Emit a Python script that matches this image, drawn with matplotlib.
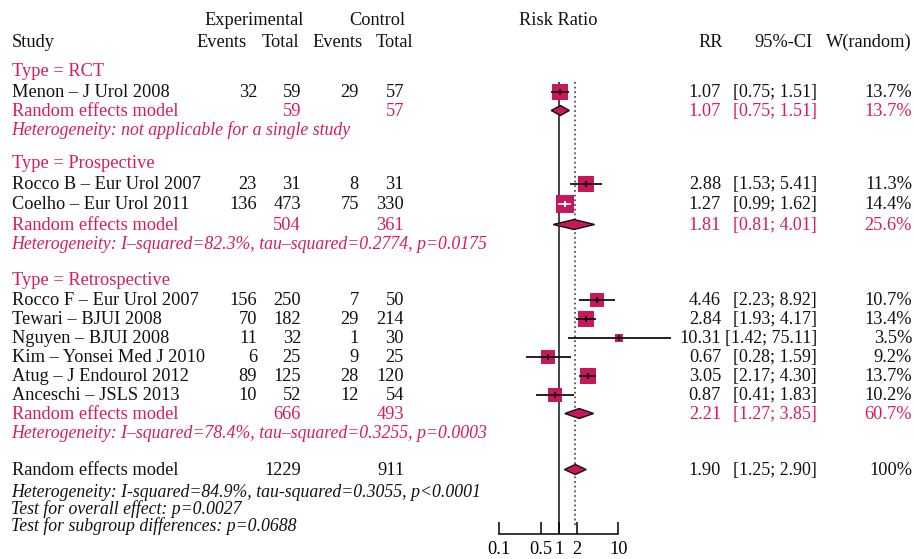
import matplotlib

matplotlib.use("Agg")
import matplotlib.pyplot as plt
from matplotlib.patches import Polygon

plt.rcParams["font.family"] = ["Liberation Serif", "DejaVu Serif"]

PINK_TEXT = "#D81B60"
PINK_MARK = "#C8175D"
BLACK = "#111111"
FS = 13.2
FS_IT = 12.8
FS_CI = 12.9

# study level data
studies = [
    "Menon – J Urol 2008",
    "Rocco B – Eur Urol 2007",
    "Coelho – Eur Urol 2011",
    "Rocco F – Eur Urol 2007",
    "Tewari – BJUI 2008",
    "Nguyen – BJUI 2008",
    "Kim – Yonsei Med J 2010",
    "Atug – J Endourol 2012",
    "Anceschi – JSLS 2013",
]
study_group = [0, 1, 1, 2, 2, 2, 2, 2, 2]
exp_events = [32, 23, 136, 156, 70, 11, 6, 89, 10]
exp_total = [59, 31, 473, 250, 182, 32, 25, 125, 52]
ctrl_events = [29, 8, 75, 7, 29, 1, 9, 28, 12]
ctrl_total = [57, 31, 330, 50, 214, 30, 25, 120, 54]
rr = [1.07, 2.88, 1.27, 4.46, 2.84, 10.31, 0.67, 3.05, 0.87]
ci_lo = [0.75, 1.53, 0.99, 2.23, 1.93, 1.42, 0.28, 2.17, 0.41]
ci_hi = [1.51, 5.41, 1.62, 8.92, 4.17, 75.11, 1.59, 4.30, 1.83]
weight = [13.7, 11.3, 14.4, 10.7, 13.4, 3.5, 9.2, 13.7, 10.2]

# subgroup summaries
groups = ["Type = RCT", "Type = Prospective", "Type = Retrospective"]
grp_exp_total = [59, 504, 666]
grp_ctrl_total = [57, 361, 493]
grp_rr = [1.07, 1.81, 2.21]
grp_lo = [0.75, 0.81, 1.27]
grp_hi = [1.51, 4.01, 3.85]
grp_weight = [13.7, 25.6, 60.7]
grp_het = [
    "Heterogeneity: not applicable for a single study",
    "Heterogeneity: I–squared=82.3%, tau–squared=0.2774, p=0.0175",
    "Heterogeneity: I–squared=78.4%, tau–squared=0.3255, p=0.0003",
]

# overall pooled estimate
overall_exp_total = 1229
overall_ctrl_total = 911
overall_rr = 1.90
overall_lo = 1.25
overall_hi = 2.90
overall_notes = [
    "Heterogeneity: I-squared=84.9%, tau-squared=0.3055, p<0.0001",
    "Test for overall effect: p=0.0027",
    "Test for subgroup differences: p=0.0688",
]

axis_ticks = [0.1, 0.5, 1, 2, 10]
axis_labels = ["0.1", "0.5", "1", "2", "10"]

# text baselines (pixels from top) for each subgroup block
group_lines = [
    {"title": 76, "studies": [97], "pooled": 116, "het": 135},
    {"title": 168, "studies": [189, 209], "pooled": 230, "het": 249},
    {"title": 285, "studies": [305, 324, 343, 362, 381, 400], "pooled": 419, "het": 438},
]
overall_line = 475
note_lines = [497, 514, 531]
MARK_OFF = 5.5

# column x positions
X_STUDY = 12
X_EE, X_ET, X_CE, X_CT = 257, 301, 359, 404
X_RR, X_CI, X_W = 721, 817, 912

fig = plt.figure(figsize=(9.14, 5.59), dpi=100)
ax = fig.add_axes([0, 0, 1, 1])
ax.set_xlim(0, 914)
ax.set_ylim(559, 0)
ax.axis("off")

fx = fig.add_axes([499 / 914, 0, (618.3 - 499) / 914, 1])
fx.set_xscale("log")
fx.set_xlim(0.1, 10)
fx.set_ylim(559, 0)
fx.patch.set_visible(False)
for side in ["left", "top", "right"]:
    fx.spines[side].set_visible(False)
fx.spines["bottom"].set_position(("data", 534))
fx.spines["bottom"].set_linewidth(1.1)
fx.set_yticks([])
fx.set_xticks(axis_ticks)
fx.set_xticklabels(axis_labels)
fx.minorticks_off()
fx.tick_params(axis="x", direction="in", length=9, width=1.1, pad=5, labelsize=FS)


def txt(x, y, s, ha="left", color=BLACK, style="normal", size=None):
    if size is None:
        size = FS_IT if style == "italic" else FS
    ax.text(x, y, s, ha=ha, va="baseline", fontsize=size, color=color, style=style)


def diamond(est, lo, hi, y, h=5):
    fx.add_patch(Polygon([(lo, y), (est, y - h), (hi, y), (est, y + h)], closed=True,
                         facecolor=PINK_MARK, edgecolor=BLACK, linewidth=1.0, zorder=4))


# header
txt(254, 25, "Experimental", ha="center")
txt(377, 25, "Control", ha="center")
txt(558, 25, "Risk Ratio", ha="center")
txt(X_STUDY, 47, "Study")
txt(247, 47, "Events", ha="right")
txt(299, 47, "Total", ha="right")
txt(363, 47, "Events", ha="right")
txt(413, 47, "Total", ha="right")
txt(723, 47, "RR", ha="right")
txt(813, 47, "95%-CI", ha="right")
txt(X_W, 47, "W(random)", ha="right")

# reference lines
fx.vlines(1, 82, 534, color=BLACK, linewidth=1.1, zorder=1)
fx.vlines(overall_rr, 82, 527, color="#555555", linewidth=1.3, linestyles=(0, (1, 1.6)), zorder=1)

for g, name in enumerate(groups):
    lines = group_lines[g]
    txt(X_STUDY, lines["title"], name, color=PINK_TEXT)
    idx = [i for i, sg in enumerate(study_group) if sg == g]
    for i, yb in zip(idx, lines["studies"]):
        txt(X_STUDY, yb, studies[i])
        txt(X_EE, yb, str(exp_events[i]), ha="right")
        txt(X_ET, yb, str(exp_total[i]), ha="right")
        txt(X_CE, yb, str(ctrl_events[i]), ha="right")
        txt(X_CT, yb, str(ctrl_total[i]), ha="right")
        txt(X_RR, yb, f"{rr[i]:.2f}", ha="right")
        txt(X_CI, yb, f"[{ci_lo[i]:.2f}; {ci_hi[i]:.2f}]", ha="right", size=FS_CI)
        txt(X_W, yb, f"{weight[i]:.1f}%", ha="right")

        y = yb - MARK_OFF
        side = 12.3 * (weight[i] / 14.4) ** 0.5  # square side in points
        fx.scatter([rr[i]], [y], s=side ** 2, marker="s", color=PINK_MARK,
                   linewidths=0, zorder=3, clip_on=False)
        # CI drawn in white when it fits inside the square
        lo_px = fx.transData.transform((ci_lo[i], y))[0]
        hi_px = fx.transData.transform((ci_hi[i], y))[0]
        ci_col = "white" if (hi_px - lo_px) < side / 0.72 else BLACK
        fx.hlines(y, ci_lo[i], ci_hi[i], color=ci_col, linewidth=1.3, zorder=5, clip_on=False)
        fx.vlines(rr[i], y - 3, y + 3, color=ci_col, linewidth=1.3, zorder=5, clip_on=False)

    yb = lines["pooled"]
    txt(X_STUDY, yb, "Random effects model", color=PINK_TEXT)
    txt(X_ET, yb, str(grp_exp_total[g]), ha="right", color=PINK_TEXT)
    txt(X_CT, yb, str(grp_ctrl_total[g]), ha="right", color=PINK_TEXT)
    txt(X_RR, yb, f"{grp_rr[g]:.2f}", ha="right", color=PINK_TEXT)
    txt(X_CI, yb, f"[{grp_lo[g]:.2f}; {grp_hi[g]:.2f}]", ha="right", color=PINK_TEXT, size=FS_CI)
    txt(X_W, yb, f"{grp_weight[g]:.1f}%", ha="right", color=PINK_TEXT)
    diamond(grp_rr[g], grp_lo[g], grp_hi[g], yb - MARK_OFF)
    txt(X_STUDY - 1, lines["het"], grp_het[g], color=PINK_TEXT, style="italic")

# overall
yb = overall_line
txt(X_STUDY, yb, "Random effects model")
txt(X_ET, yb, str(overall_exp_total), ha="right")
txt(X_CT, yb, str(overall_ctrl_total), ha="right")
txt(X_RR, yb, f"{overall_rr:.2f}", ha="right")
txt(X_CI, yb, f"[{overall_lo:.2f}; {overall_hi:.2f}]", ha="right", size=FS_CI)
txt(X_W, yb, "100%", ha="right")
diamond(overall_rr, overall_lo, overall_hi, yb - MARK_OFF)

for s, yb in zip(overall_notes, note_lines):
    txt(X_STUDY - 1, yb, s, style="italic")

fig.savefig("out.png", dpi=100, facecolor="white")
